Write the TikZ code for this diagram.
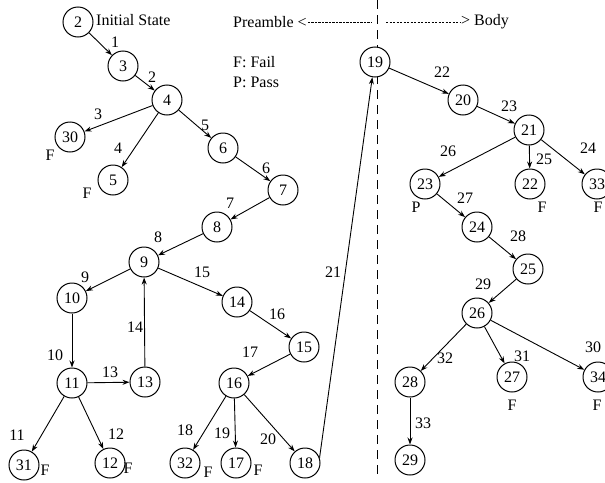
\documentclass[tikz,border=0pt]{standalone}
\usepackage{fontspec}
\setmainfont{Liberation Serif}
\usetikzlibrary{arrows.meta}
\begin{document}
\begin{tikzpicture}[x=1pt,y=-1pt,
  st/.style={circle,draw,fill=white,line width=1pt,minimum size=30pt,inner sep=0pt,font=\fontsize{16}{18}\selectfont},
  lbl/.style={inner sep=0pt,font=\fontsize{16}{18}\selectfont},
  arr/.style={line width=0.9pt,-{Stealth[length=7pt,width=5pt]}},
  vdash/.style={line width=1pt,dash pattern=on 9pt off 6pt}]
\useasboundingbox (0,0) rectangle (605,482);
\clip (0,0) rectangle (605,482);
% divider (drawn first, behind the states)
\coordinate (vt) at (377,0);
\coordinate (vb) at (377,478);
\draw[vdash] (vt) -- (vb);
% states
\node[st] (n2) at (78,22) {2};
\node[st] (n3) at (123,66) {3};
\node[st] (n4) at (167,100) {4};
\node[st] (n30) at (70,137) {30};
\node[st] (n5) at (113,180) {5};
\node[st] (n6) at (223,148) {6};
\node[st] (n7) at (283,190) {7};
\node[st] (n8) at (217,227) {8};
\node[st] (n9) at (144,262) {9};
\node[st] (n10) at (72,298) {10};
\node[st] (n14) at (237,302) {14};
\node[st] (n15) at (304,347) {15};
\node[st] (n11) at (72,383) {11};
\node[st] (n13) at (145,382) {13};
\node[st] (n16) at (234,383) {16};
\node[st] (n31) at (24,465) {31};
\node[st] (n12) at (110,463) {12};
\node[st] (n32) at (185,463) {32};
\node[st] (n17) at (236,463) {17};
\node[st] (n18) at (305,463) {18};
\node[st] (n19) at (375,62) {19};
\node[st] (n20) at (463,100) {20};
\node[st] (n21) at (529,130) {21};
\node[st] (n23) at (425,184) {23};
\node[st] (n22) at (530,184) {22};
\node[st] (n33) at (597,184) {33};
\node[st] (n24) at (477,227) {24};
\node[st] (n25) at (528,269) {25};
\node[st] (n26) at (477,313) {26};
\node[st] (n28) at (410,382) {28};
\node[st] (n27) at (512,377) {27};
\node[st] (n34) at (598,377) {34};
\node[st] (n29) at (410,460) {29};
% edges
\draw[arr] (n2) -- (n3);
\draw[arr] (n3) -- (n4);
\draw[arr] (n4) -- (n30);
\draw[arr] (n4) -- (n5);
\draw[arr] (n4) -- (n6);
\draw[arr] (n6) -- (n7);
\draw[arr] (n7) -- (n8);
\draw[arr] (n8) -- (n9);
\draw[arr] (n9) -- (n10);
\draw[arr] (n10) -- (n11);
\draw[arr] (n11) -- (n31);
\draw[arr] (n11) -- (n12);
\draw[arr] (n11) -- (n13);
\draw[arr] (n13) -- (n9);
\draw[arr] (n9) -- (n14);
\draw[arr] (n14) -- (n15);
\draw[arr] (n15) -- (n16);
\draw[arr] (n16) -- (n32);
\draw[arr] (n16) -- (n17);
\draw[arr] (n16) -- (n18);
\draw[arr] (n18.20) -- (n19.260);
\draw[arr] (n19) -- (n20);
\draw[arr] (n20) -- (n21);
\draw[arr] (n21) -- (n33);
\draw[arr] (n21) -- (n22);
\draw[arr] (n21) -- (n23);
\draw[arr] (n23) -- (n24);
\draw[arr] (n24) -- (n25);
\draw[arr] (n25) -- (n26);
\draw[arr] (n26) -- (n34);
\draw[arr] (n26) -- (n27);
\draw[arr] (n26) -- (n28);
\draw[arr] (n28) -- (n29);
% edge labels
\node[lbl] (l1) at (115,42) {1};
\node[lbl] (l2) at (152,77) {2};
\node[lbl] (l3) at (98,114) {3};
\node[lbl] (l4) at (118,148) {4};
\node[lbl] (l5) at (205,125) {5};
\node[lbl] (l6) at (266,168) {6};
\node[lbl] (l7) at (230,203) {7};
\node[lbl] (l8) at (158,237) {8};
\node[lbl] (l9) at (85,277) {9};
\node[lbl] (l10) at (55,355) {10};
\node[lbl] (l11) at (17,435) {11};
\node[lbl] (l12) at (116,434) {12};
\node[lbl] (l13) at (110,372) {13};
\node[lbl] (l14) at (135,327) {14};
\node[lbl] (l15) at (202,272) {15};
\node[lbl] (l16) at (277,314) {16};
\node[lbl] (l17) at (250,352) {17};
\node[lbl] (l18) at (185,430) {18};
\node[lbl] (l19) at (222,433) {19};
\node[lbl] (l20) at (268,439) {20};
\node[lbl] (l21) at (333,272) {21};
\node[lbl] (l22) at (442,72) {22};
\node[lbl] (l23) at (509,106) {23};
\node[lbl] (l24) at (588,148) {24};
\node[lbl] (l25) at (544,159) {25};
\node[lbl] (l26) at (448,151) {26};
\node[lbl] (l27) at (465,198) {27};
\node[lbl] (l28) at (518,236) {28};
\node[lbl] (l29) at (483,284) {29};
\node[lbl] (l30) at (593,347) {30};
\node[lbl] (l31) at (522,356) {31};
\node[lbl] (l32) at (445,358) {32};
\node[lbl] (l33) at (423,423) {33};
% F / P marks
\node[lbl] (f30) at (50,155) {F};
\node[lbl] (f5) at (87,193) {F};
\node[lbl] (f31) at (45,470) {F};
\node[lbl] (f12) at (128,468) {F};
\node[lbl] (f32) at (208,472) {F};
\node[lbl] (f17) at (258,470) {F};
\node[lbl] (f22) at (542,207) {F};
\node[lbl] (f33) at (598,207) {F};
\node[lbl] (f27) at (512,405) {F};
\node[lbl] (f34) at (597,405) {F};
\node[lbl] (p23) at (416,207) {P};
% texts
\node[lbl,anchor=west] (init) at (96,20) {Initial State};
\node[lbl,anchor=west] (pre) at (233,22) {Preamble <};
\node[lbl,anchor=west] (fail) at (233,62) {F: Fail};
\node[lbl,anchor=west] (pass) at (233,82) {P: Pass};
\node[lbl,anchor=west] (body) at (461,22) {> Body};
\coordinate (pa) at (pre.east);
\coordinate (pb) at (371,22);
\coordinate (ba) at (386,22);
\coordinate (bb) at (body.west);
\draw[line width=0.7pt,dash pattern=on 2.2pt off 1.3pt] ([xshift=1pt]pa) -- (pb);
\draw[line width=0.7pt,dash pattern=on 2.2pt off 1.3pt] (ba) -- ([xshift=-1pt]bb);
\end{tikzpicture}
\end{document}
